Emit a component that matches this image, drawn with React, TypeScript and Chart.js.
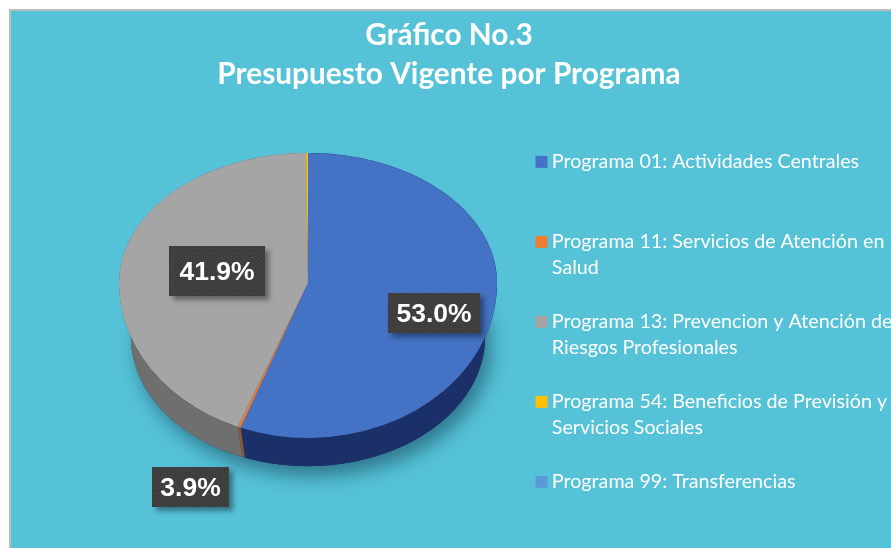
import React, { useEffect, useRef } from "react";
import { Chart, registerables } from "chart.js";

Chart.register(...registerables);

const categories = [
  ["Programa 01: Actividades Centrales", ""],
  ["Programa 11: Servicios de Atención en", "Salud"],
  ["Programa 13: Prevencion y Atención de", "Riesgos Profesionales"],
  ["Programa 54: Beneficios de Previsión y", "Servicios Sociales"],
  ["Programa 99: Transferencias", ""],
];
// Drawn share of each slice, as measured on the picture
const sliceValues = [55.8, 0.25, 43.8, 0.15, 0];
// Percentages as printed on the picture
const printedLabels = ["53.0%", "3.9%", "41.9%"];
const sliceColors = ["#4472C4", "#ED7D31", "#A5A5A5", "#FFC000", "#5B9BD5"];
const wallColors = ["#1B2F68", "#8A5A30", "#6F6F6F", "#9A8020", "#3A6A95"];

const titleLines = ["Gráfico No.3", "Presupuesto Vigente por Programa"];

const labelBoxes = [
  { x: 388, y: 293, w: 92, h: 40 },
  { x: 152, y: 467, w: 77, h: 40 },
  { x: 169, y: 246, w: 96, h: 50 },
];

const SQUASH_UP = 0.688;
const SQUASH_DOWN = 0.82;
const PIE = { left: 119, right: 497, cy: 283 };

const squashed = (ctx: any, cx: number, cy: number, up: boolean) => {
  ctx.save();
  ctx.beginPath();
  if (up) ctx.rect(0, 0, 891, cy);
  else ctx.rect(0, cy, 891, 548 - cy);
  ctx.clip();
  ctx.translate(cx, cy);
  ctx.scale(1, up ? SQUASH_UP : SQUASH_DOWN);
  ctx.translate(-cx, -cy);
};

const piePlugin = {
  id: "pie3d",
  afterLayout(chart: any) {
    const r = (PIE.right - PIE.left) / 2;
    chart.chartArea = {
      left: PIE.left,
      right: PIE.right,
      top: PIE.cy - r,
      bottom: PIE.cy + r,
      width: r * 2,
      height: r * 2,
    };
    const t = chart.titleBlock;
    t.left = 7;
    t.right = 891;
    t.top = 10;
    t.bottom = 100;
    const l = chart.legend;
    l.left = 513;
    l.right = l.left + 400;
    l.top = 124;
    l.bottom = 548;
  },
  beforeDraw(chart: any) {
    const { ctx } = chart;
    ctx.save();
    ctx.fillStyle = "#ffffff";
    ctx.fillRect(0, 0, 891, 548);
    ctx.fillStyle = "#55C2D8";
    ctx.strokeStyle = "#BDBDBD";
    ctx.lineWidth = 2;
    ctx.beginPath();
    ctx.rect(10, 10, 900, 600);
    ctx.fill();
    ctx.stroke();
    ctx.restore();
  },
  beforeDatasetDraw(chart: any) {
    const { ctx } = chart;
    const arcs = chart.getDatasetMeta(0).data;
    const { x: cx, y: cy, outerRadius: r } = arcs[0];
    const rxLow = r * 0.937;
    const ryLow = r * 0.683;
    const cyLow = cy + r * 0.286;

    // soft shadow under the pie
    ctx.save();
    ctx.shadowColor = "rgba(20,60,80,0.55)";
    ctx.shadowBlur = 18;
    ctx.shadowOffsetX = 6;
    ctx.shadowOffsetY = 10;
    ctx.fillStyle = "#1B2F68";
    ctx.beginPath();
    ctx.ellipse(cx, cyLow, rxLow, ryLow, 0, 0, Math.PI * 2);
    ctx.fill();
    ctx.restore();

    // side wall, following each arc
    arcs.forEach((arc: any, i: number) => {
      const { startAngle: a0, endAngle: a1 } = arc;
      if (a1 - a0 <= 0) return;
      const n = Math.max(2, Math.ceil((a1 - a0) * 60));
      ctx.beginPath();
      for (let k = 0; k <= n; k++) {
        const a = a0 + ((a1 - a0) * k) / n;
        const s = Math.sin(a);
        const px = cx + r * Math.cos(a);
        const py = cy + r * s * (s < 0 ? SQUASH_UP : SQUASH_DOWN);
        if (k === 0) ctx.moveTo(px, py);
        else ctx.lineTo(px, py);
      }
      for (let k = n; k >= 0; k--) {
        const a = a0 + ((a1 - a0) * k) / n;
        ctx.lineTo(cx + rxLow * Math.cos(a), cyLow + ryLow * Math.sin(a));
      }
      ctx.closePath();
      ctx.fillStyle = wallColors[i];
      ctx.fill();
    });

    // the library's arcs become the top face: upper half first
    squashed(ctx, cx, cy, true);
  },
  afterDatasetDraw(chart: any) {
    const { ctx } = chart;
    ctx.restore();
    const meta = chart.getDatasetMeta(0);
    const { x: cx, y: cy } = meta.data[0];
    // lower half of the top face
    squashed(ctx, cx, cy, false);
    meta.controller.draw();
    ctx.restore();
  },
  afterDatasetsDraw(chart: any) {
    const { ctx } = chart;
    const tile = document.createElement("canvas");
    tile.width = 5;
    tile.height = 5;
    const tc = tile.getContext("2d")!;
    tc.fillStyle = "#3E3E3E";
    tc.fillRect(0, 0, 5, 5);
    tc.fillStyle = "#4C4C4C";
    tc.fillRect(1, 1, 1, 1);
    tc.fillRect(3, 3, 1, 1);
    labelBoxes.forEach((b, i) => {
      ctx.save();
      ctx.shadowColor = "rgba(0,0,0,0.4)";
      ctx.shadowBlur = 5;
      ctx.shadowOffsetX = 4;
      ctx.shadowOffsetY = 4;
      ctx.fillStyle = "#3E3E3E";
      ctx.fillRect(b.x, b.y, b.w, b.h);
      ctx.restore();
      ctx.save();
      ctx.fillStyle = ctx.createPattern(tile, "repeat");
      ctx.fillRect(b.x, b.y, b.w, b.h);
      ctx.fillStyle = "#ffffff";
      ctx.font = "bold 26.5px 'Liberation Sans'";
      ctx.textAlign = "center";
      ctx.textBaseline = "middle";
      ctx.fillText(printedLabels[i], b.x + b.w / 2, b.y + b.h / 2 + 2);
      ctx.restore();
    });
  },
};

export default function App() {
  const ref = useRef<HTMLCanvasElement>(null);
  useEffect(() => {
    document.body.style.margin = "0";
    const chart = new Chart(ref.current!, {
      type: "pie",
      data: {
        labels: categories.map((c) => c.join(" ").trim()),
        datasets: [
          {
            data: sliceValues,
            backgroundColor: sliceColors,
            borderWidth: 0,
          },
        ],
      },
      options: {
        responsive: false,
        animation: false,
        events: [],
        layout: { padding: 0 },
        plugins: {
          tooltip: { enabled: false },
          title: {
            display: true,
            text: titleLines,
            color: "#ffffff",
            align: "center",
            font: { family: "Lato", weight: "bold", size: 29.8, lineHeight: "39px" },
            padding: { top: 6, bottom: 0 },
          },
          legend: {
            display: true,
            position: "right",
            align: "start",
            labels: {
              color: "#ffffff",
              font: { family: "Lato", size: 19.7, lineHeight: "26px" },
              usePointStyle: true,
              boxWidth: 1,
              boxHeight: 12,
              padding: 28,
              generateLabels: () =>
                categories.map((lines, i) => ({
                  text: lines,
                  fillStyle: sliceColors[i],
                  strokeStyle: sliceColors[i],
                  lineWidth: 0,
                  pointStyle: "rect",
                  hidden: false,
                  index: i,
                  fontColor: "#ffffff",
                })),
            },
          },
        },
      },
      plugins: [piePlugin],
    } as any);
    return () => chart.destroy();
  }, []);
  return <canvas ref={ref} width={891} height={548} style={{ display: "block" }} />;
}
